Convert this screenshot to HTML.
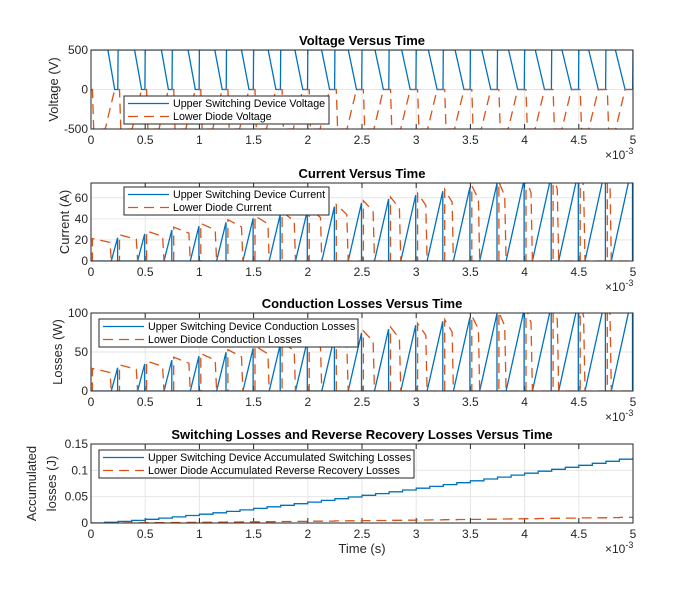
<!DOCTYPE html><html><head><style>
body{margin:0;background:#fff;font-family:"Liberation Sans",sans-serif}
svg text{font-family:"Liberation Sans",sans-serif}
</style></head><body>
<svg id="s" width="700" height="600" xmlns="http://www.w3.org/2000/svg"></svg>
<script>
const S=document.getElementById('s');let h='';
const X0=91,X1=633,W=X1-X0;
const xs=t=>X0+t/5e-3*W;
const plots=[
 {t:'Voltage Versus Time',y0:50,y1:129,min:-500,max:500,ticks:[-500,0,500],yl:['Voltage (V)'],lg:['Upper Switching Device Voltage','Lower Diode Voltage'],lx:124,lw:205,ly:96},
 {t:'Current Versus Time',y0:183,y1:261,min:0,max:74,ticks:[0,20,40,60],yl:['Current (A)'],lg:['Upper Switching Device Current','Lower Diode Current'],lx:124,lw:205,ly:187},
 {t:'Conduction Losses Versus Time',y0:313,y1:391,min:0,max:100,ticks:[0,50,100],yl:['Losses (W)'],lg:['Upper Switching Device Conduction Losses','Lower Diode Conduction Losses'],lx:99,lw:259,ly:319},
 {t:'Switching Losses and Reverse Recovery Losses Versus Time',y0:444,y1:523,min:0,max:0.15,ticks:[0,0.05,0.1,0.15],yl:['Accumulated','losses  (J)'],lg:['Upper Switching Device Accumulated Switching Losses','Lower Diode Accumulated Reverse Recovery Losses'],lx:99,lw:315,ly:450}
];
const T=0.25e-3;
function series(i){
 let a=[],b=[];
 for(let k=0;k<20;k++){
  const t0=k*T, f=k/19, on=T*(0.25+0.55*f), I=22+70*f;
  if(i==0){
   a.push([t0,500],[t0+T*0.75-on*0.5,500],[t0+T*0.95-on*0.3,0],[t0+T*0.99,0],[t0+T,500]);
   b.push([t0,0],[t0+T*0.05,0],[t0+T*0.1,-500],[t0+T*0.6-on*0.3,-500],[t0+T*0.95-on*0.3,0],[t0+T,0]);
  }else if(i==1||i==2){
   const sc=i==1?1:1.35;
   const ts=t0+T-on;
   a.push([t0,0],[ts,0],[t0+T*0.98,I*sc],[t0+T*0.98,0]);
   b.push([t0,0],[t0+T*0.05,0],[t0+T*0.05,I*sc*0.97],[ts-T*0.05,I*sc*0.8],[ts,0],[t0+T,0]);
  }
 }
 if(i==3){for(let k=0;k<=40;k++){const t=k*T/2;a.push([t,0.125*Math.pow(k/40,1.25)],[t+T/2,0.125*Math.pow(k/40,1.25)]);b.push([t,0.011*Math.pow(k/40,1.3)],[t+T/2,0.011*Math.pow(k/40,1.3)]);}}
 return [a,b];
}
plots.forEach((p,i)=>{
 const ys=v=>p.y1-(v-p.min)/(p.max-p.min)*(p.y1-p.y0);
 h+=`<defs><clipPath id="c${i}"><rect x="${X0}" y="${p.y0}" width="${W}" height="${p.y1-p.y0}"/></clipPath></defs>`;
 for(let j=0;j<=10;j++){const x=X0+j*W/10;h+=`<line x1="${x}" x2="${x}" y1="${p.y0}" y2="${p.y1}" stroke="#e6e6e6"/>`;
  h+=`<text x="${x}" y="${p.y1+15}" font-size="12" text-anchor="middle" fill="#262626">${j/2}</text>`;
  h+=`<line x1="${x}" x2="${x}" y1="${p.y1}" y2="${p.y1-5}" stroke="#262626"/><line x1="${x}" x2="${x}" y1="${p.y0}" y2="${p.y0+5}" stroke="#262626"/>`;}
 p.ticks.forEach(v=>{const y=ys(v);h+=`<line x1="${X0}" x2="${X1}" y1="${y}" y2="${y}" stroke="#e6e6e6"/><text x="${X0-3}" y="${y+4}" font-size="12" text-anchor="end" fill="#262626">${v}</text>`;});
 const [a,b]=series(i);
 const pth=d=>d.map((q,n)=>(n?'L':'M')+xs(Math.min(q[0],5e-3)).toFixed(1)+','+ys(q[1]).toFixed(1)).join('');
 h+=`<g clip-path="url(#c${i})"><path d="${pth(a)}" fill="none" stroke="#0072bd" stroke-width="1.3"/><path d="${pth(b)}" fill="none" stroke="#d95319" stroke-width="1.3" stroke-dasharray="10,6"/></g>`;
 h+=`<rect x="${X0}" y="${p.y0}" width="${W}" height="${p.y1-p.y0}" fill="none" stroke="#262626"/>`;
 h+=`<text x="362" y="${p.y0-5}" font-size="13" font-weight="bold" text-anchor="middle" fill="#000">${p.t}</text>`;
 h+=`<text x="605" y="${p.y1+30}" font-size="12" fill="#262626">×10<tspan dy="-5" font-size="9">-3</tspan></text>`;
 const cy=(p.y0+p.y1)/2;
 if(p.yl.length==1)h+=`<text transform="translate(${i==0?58:i==1?69:62},${cy}) rotate(-90)" font-size="13" text-anchor="middle" fill="#262626">${p.yl[0]}</text>`;
 else h+=`<text transform="translate(36,${cy}) rotate(-90)" font-size="13" text-anchor="middle" fill="#262626">${p.yl[0]}</text><text transform="translate(56,${cy}) rotate(-90)" font-size="13" text-anchor="middle" fill="#262626">${p.yl[1]}</text>`;
 h+=`<rect x="${p.lx}" y="${p.ly}" width="${p.lw}" height="28" fill="#fff" stroke="#262626"/>`;
 h+=`<line x1="${p.lx+4}" x2="${p.lx+45}" y1="${p.ly+7.5}" y2="${p.ly+7.5}" stroke="#0072bd" stroke-width="1.3"/><line x1="${p.lx+4}" x2="${p.lx+45}" y1="${p.ly+20.5}" y2="${p.ly+20.5}" stroke="#d95319" stroke-width="1.3" stroke-dasharray="10,6"/>`;
 h+=`<text x="${p.lx+49}" y="${p.ly+11}" font-size="10.7" fill="#000">${p.lg[0]}</text><text x="${p.lx+49}" y="${p.ly+24}" font-size="10.7" fill="#000">${p.lg[1]}</text>`;
});
h+=`<text x="362" y="553" font-size="13" text-anchor="middle" fill="#262626">Time (s)</text>`;
S.innerHTML=h;
</script></body></html>
